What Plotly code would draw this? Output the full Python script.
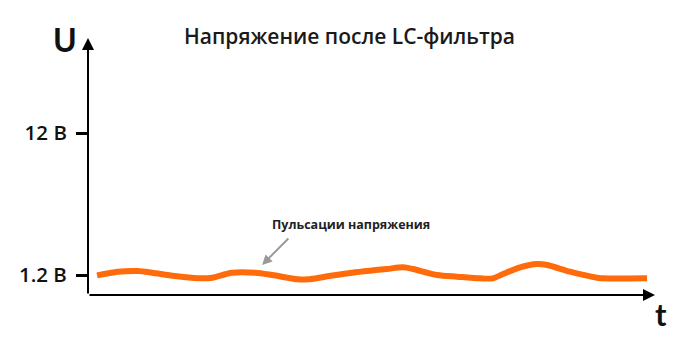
import plotly.graph_objects as go

# time (arbitrary units, axis arrow at 10) and voltage level (schematic units)
t_vals = [0.16, 0.53, 0.88, 1.13, 1.53, 2.01, 2.19, 2.54, 2.95, 3.25, 3.70, 3.88,
          4.18, 4.66, 4.97, 5.27, 5.56, 5.73, 6.16, 6.51, 6.91, 7.14, 7.32, 7.62,
          7.92, 8.10, 8.50, 8.98, 9.08, 9.86]
u_vals = [1.18, 1.40, 1.44, 1.34, 1.14, 1.00, 1.04, 1.34, 1.34, 1.20, 0.94, 0.94,
          1.10, 1.34, 1.46, 1.56, 1.66, 1.56, 1.20, 1.10, 1.00, 1.00, 1.26, 1.66,
          1.86, 1.80, 1.40, 1.04, 1.00, 1.00]
tick_vals = [1.2, 9.72]
tick_text = ["1.2 В", "12 В"]

x_max = 10
y_max = 15.42

# plot area in pixels (for placing free text)
L, R, T, B = 88, 45, 38, 51
PW, PH = 700 - L - R, 346 - T - B


def px(xp, yp):
    return (xp - L) / PW, (346 - B - yp) / PH


fig = go.Figure()
fig.add_trace(go.Scatter(x=t_vals, y=u_vals, mode="lines",
                         line=dict(color="#FF6A0A", width=6, shape="spline", smoothing=0.8),
                         hoverinfo="skip", showlegend=False))

fig.update_layout(
    width=700, height=346,
    margin=dict(l=L, r=R, t=T, b=B),
    plot_bgcolor="white", paper_bgcolor="white",
    xaxis=dict(range=[0, x_max], showgrid=False, zeroline=False, showline=False,
               showticklabels=False, ticks="", fixedrange=True),
    yaxis=dict(range=[0, y_max], showgrid=False, zeroline=False, showline=False,
               tickmode="array", tickvals=tick_vals, ticktext=tick_text,
               ticks="outside", ticklen=11, tickwidth=3, tickcolor="black",
               ticklabelstandoff=5,
               tickfont=dict(family="Open Sans", size=20.5, color="#111", weight=600),
               fixedrange=True),
)

# axes with arrows
fig.add_annotation(x=0, y=y_max, ax=0, ay=0, xref="x", yref="y", axref="x", ayref="y",
                   showarrow=True, arrowhead=2, arrowsize=1.2, arrowwidth=2,
                   arrowcolor="black", text="")
fig.add_annotation(x=x_max, y=0, ax=0, ay=0, xref="x", yref="y", axref="x", ayref="y",
                   showarrow=True, arrowhead=2, arrowsize=1.2, arrowwidth=2,
                   arrowcolor="black", text="")

# axis labels
ux, uy = px(65, 39)
fig.add_annotation(x=ux, y=uy, xref="paper", yref="paper", text="U", showarrow=False,
                   xanchor="center", yanchor="middle",
                   font=dict(family="Lato", size=32, color="#111", weight="bold"))
tx, ty = px(661, 314)
fig.add_annotation(x=tx, y=ty, xref="paper", yref="paper", text="t", showarrow=False,
                   xanchor="center", yanchor="middle",
                   font=dict(family="Lato", size=31, color="#111", weight="bold"))

# title
hx, hy = px(349, 36)
fig.add_annotation(x=hx, y=hy, xref="paper", yref="paper",
                   text="Напряжение после LC-фильтра", showarrow=False,
                   xanchor="center", yanchor="middle",
                   font=dict(family="Open Sans", size=21, color="#1a1a1a", weight=600))

# ripple annotation
rx, ry = px(351, 224)
fig.add_annotation(x=rx, y=ry, xref="paper", yref="paper", text="Пульсации напряжения",
                   showarrow=False, xanchor="center", yanchor="middle",
                   font=dict(family="Open Sans", size=12.5, color="#222", weight="bold"))
fig.add_annotation(x=3.07, y=1.8, ax=3.56, ay=3.48, xref="x", yref="y", axref="x", ayref="y",
                   showarrow=True, arrowhead=2, arrowsize=1, arrowwidth=2,
                   arrowcolor="#9a9a9a", text="")

fig.write_html("out.html")
